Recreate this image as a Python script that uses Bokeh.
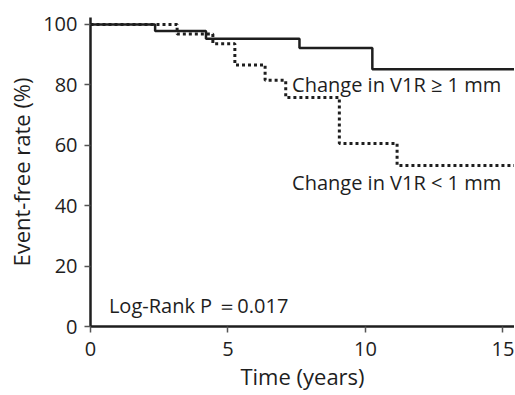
from bokeh.plotting import figure
from bokeh.models import Range1d, FixedTicker
from bokeh.core.properties import value
from bokeh.embed import file_html
from bokeh.resources import INLINE

# Kaplan-Meier step data (time in years, event-free rate in %)
ge1_time = [0, 2.35, 4.2, 7.6, 10.25, 15.42]
ge1_rate = [100, 97.8, 95.3, 92.2, 85.2, 85.2]
lt1_time = [0, 3.15, 4.45, 5.25, 6.35, 7.1, 9.05, 11.15, 15.42]
lt1_rate = [100, 96.8, 93.6, 86.6, 81.5, 75.8, 60.6, 53.3, 53.3]

x_ticks = [0, 5, 10, 15]
y_ticks = [0, 20, 40, 60, 80, 100]

label_ge1 = "Change in V1R \u2265 1 mm"
label_lt1 = "Change in V1R < 1 mm"
pval_text = "Log-Rank P \uff1d0.017"

FONT = "Open Sans"
INK = "#1e1e1e"

p = figure(width=514, height=395, output_backend="svg", toolbar_location=None,
           x_range=Range1d(0, 15.42), y_range=Range1d(0, 102.3),
           min_border_left=90, min_border_right=0, min_border_top=17, min_border_bottom=69)
p.outline_line_color = None
p.grid.grid_line_color = None

p.step(lt1_time, lt1_rate, mode="after", line_color=INK, line_width=3, line_dash="3 3")
p.step(ge1_time, ge1_rate, mode="after", line_color=INK, line_width=2.5)

p.text(x=[7.33], y=[80.1], text=[label_ge1], text_font=value(FONT), text_font_size="20px",
       text_baseline="middle", text_color=INK)
p.text(x=[7.33], y=[47.8], text=[label_lt1], text_font=value(FONT), text_font_size="20px",
       text_baseline="middle", text_color=INK)
p.text(x=[0.67], y=[7.0], text=[pval_text], text_font=value(FONT), text_font_size="20px",
       text_baseline="middle", text_color=INK)

for ax in (p.xaxis, p.yaxis):
    ax.axis_line_width = 2.5
    ax.axis_line_color = INK
    ax.major_tick_line_color = "#555555"
    ax.major_tick_line_width = 1.5
    ax.major_tick_in = 0
    ax.major_tick_out = 6
    ax.minor_tick_line_color = None
    ax.major_label_text_font = FONT
    ax.major_label_text_font_size = "20px"
    ax.major_label_text_color = INK
    ax.axis_label_text_font = FONT
    ax.axis_label_text_font_style = "normal"
    ax.axis_label_text_color = INK

p.xaxis.axis_label_text_font_size = "22px"
p.yaxis.axis_label_text_font_size = "22px"
p.xaxis.major_label_standoff = 9
p.xaxis.axis_label_standoff = 2
p.yaxis.major_label_standoff = 7
p.yaxis.axis_label_standoff = 4

p.xaxis.ticker = FixedTicker(ticks=x_ticks)
p.yaxis.ticker = FixedTicker(ticks=y_ticks)
p.xaxis.axis_label = "Time (years)"
p.yaxis.axis_label = "Event-free rate (%)"

open("out.html", "w").write(file_html(p, INLINE))
